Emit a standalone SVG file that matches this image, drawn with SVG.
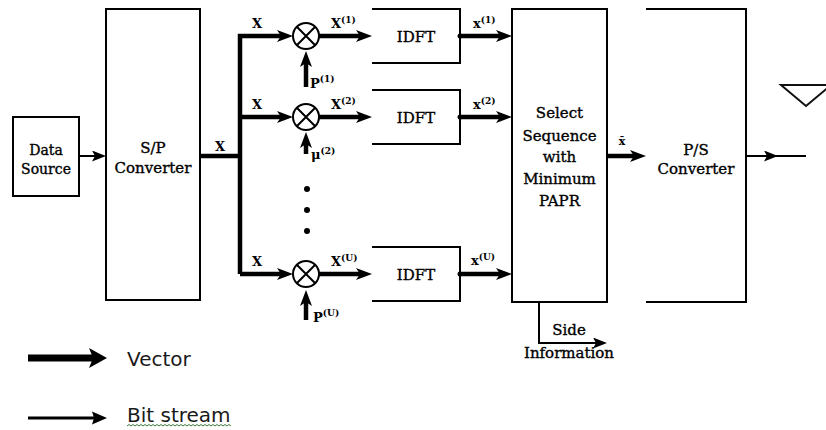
<svg xmlns="http://www.w3.org/2000/svg" width="826" height="430" viewBox="0 0 826 430">
<style>
.box{fill:none;stroke:#000;stroke-width:2}
.t{font-family:"DejaVu Serif","Liberation Serif",serif;font-size:15px;fill:#000;stroke:#000;stroke-width:0.35;text-anchor:middle}
.lb{font-family:"DejaVu Serif","Liberation Serif",serif;font-size:13px;font-weight:bold;fill:#000}
.sup{font-size:9px}
.thick{fill:none;stroke:#000;stroke-width:4.5}
.thin{fill:none;stroke:#000;stroke-width:2}
.leg{font-family:"DejaVu Sans","Liberation Sans",sans-serif;font-size:20px;fill:#1a1a1a}
</style>
<defs>
<marker id="ah" markerUnits="userSpaceOnUse" markerWidth="16" markerHeight="12" refX="8" refY="6" orient="auto">
<path d="M0,0 L16,6 L0,12 L4,6 Z" fill="#000"/>
</marker>
<marker id="ahs" markerUnits="userSpaceOnUse" markerWidth="14" markerHeight="11" refX="7" refY="5.5" orient="auto">
<path d="M0,0 L14,5.5 L0,11 L3,5.5 Z" fill="#000"/>
</marker>
</defs>
<rect width="826" height="430" fill="#fff"/>

<g id="data-source">
<rect class="box" x="13" y="117" width="66" height="79"/>
<text class="t" x="46" y="155" style="font-size:14px">Data</text>
<text class="t" x="46" y="174" style="font-size:14px">Source</text>
</g>

<g id="sp-converter">
<rect class="box" x="106" y="9" width="94" height="291"/>
<text class="t" x="153" y="153">S/P</text>
<text class="t" x="153" y="173">Converter</text>
</g>

<g id="mult1">
<circle class="box" cx="306" cy="36" r="13"/>
<path class="box" d="M296.8,26.8 L315.2,45.2 M315.2,26.8 L296.8,45.2"/>
</g>
<g id="mult2">
<circle class="box" cx="306" cy="117" r="13"/>
<path class="box" d="M296.8,107.8 L315.2,126.2 M315.2,107.8 L296.8,126.2"/>
</g>
<g id="multU">
<circle class="box" cx="306" cy="274" r="13"/>
<path class="box" d="M296.8,264.8 L315.2,283.2 M315.2,264.8 L296.8,283.2"/>
</g>

<g id="idft1">
<path class="box" d="M372,9 H460 V63 H372"/>
<text class="t" x="416" y="42">IDFT</text>
</g>
<g id="idft2">
<path class="box" d="M372,90 H460 V144 H372"/>
<text class="t" x="416" y="123">IDFT</text>
</g>
<g id="idftU">
<path class="box" d="M372,247 H460 V301 H372"/>
<text class="t" x="416" y="280">IDFT</text>
</g>

<g id="select">
<rect class="box" x="512" y="9" width="95" height="293"/>
<text class="t" x="559.5" y="118">Select</text>
<text class="t" x="559.5" y="141">Sequence</text>
<text class="t" x="559.5" y="162">with</text>
<text class="t" x="559.5" y="184">Minimum</text>
<text class="t" x="559.5" y="206">PAPR</text>
</g>

<g id="ps-converter">
<path class="box" d="M646,9 H746 V302 H646"/>
<text class="t" x="696" y="155">P/S</text>
<text class="t" x="696" y="174">Converter</text>
</g>

<g id="antenna">
<polygon points="781,85 831,85 806,106" fill="none" stroke="#111" stroke-width="2"/>
</g>

<g id="dots">
<circle cx="307" cy="189" r="3" fill="#000"/>
<circle cx="307" cy="210" r="3" fill="#000"/>
<circle cx="307" cy="231" r="3" fill="#000"/>
</g>

<g id="connectors">
<path class="thin" d="M79,156 H99" marker-end="url(#ahs)"/>
<path class="thick" d="M200,156 H240"/>
<path class="thick" d="M240,274 V36 H285" marker-end="url(#ah)"/>
<path class="thick" d="M240,117 H285" marker-end="url(#ah)"/>
<path class="thick" d="M240,274 H285" marker-end="url(#ah)"/>
<path class="thick" d="M319,36 H364" marker-end="url(#ah)"/>
<path class="thick" d="M319,117 H364" marker-end="url(#ah)"/>
<path class="thick" d="M319,274 H364" marker-end="url(#ah)"/>
<path class="thick" d="M306,87 V59" marker-end="url(#ah)"/>
<path class="thick" d="M306,154 V140" marker-end="url(#ah)"/>
<path class="thick" d="M306,320 V298" marker-end="url(#ah)"/>
<circle cx="460" cy="36" r="2.5" fill="#000"/>
<circle cx="460" cy="117" r="2.5" fill="#000"/>
<circle cx="460" cy="274" r="2.5" fill="#000"/>
<path class="thick" d="M460,36 H504" marker-end="url(#ah)"/>
<path class="thick" d="M460,117 H504" marker-end="url(#ah)"/>
<path class="thick" d="M460,274 H504" marker-end="url(#ah)"/>
<path class="thick" d="M607,156 H638" marker-end="url(#ah)"/>
<path class="thin" d="M746,156 H771" marker-end="url(#ahs)"/>
<path class="thin" d="M771,156 H806"/>
<path class="thin" d="M539,302 V343 H600" marker-end="url(#ahs)"/>
</g>

<g id="labels">
<text class="lb" x="220" y="151" text-anchor="middle">X</text>
<text class="lb" x="257" y="28" text-anchor="middle">X</text>
<text class="lb" x="257" y="109" text-anchor="middle">X</text>
<text class="lb" x="257" y="266" text-anchor="middle">X</text>
<text class="lb" x="331" y="28">X<tspan class="sup" dy="-5">(1)</tspan></text>
<text class="lb" x="331" y="109">X<tspan class="sup" dy="-5">(2)</tspan></text>
<text class="lb" x="331" y="266">X<tspan class="sup" dy="-5">(U)</tspan></text>
<text class="lb" x="473" y="28">x<tspan class="sup" dy="-5">(1)</tspan></text>
<text class="lb" x="473" y="109">x<tspan class="sup" dy="-5">(2)</tspan></text>
<text class="lb" x="471" y="265">x<tspan class="sup" dy="-5">(U)</tspan></text>
<text class="lb" x="310" y="88">P<tspan class="sup" dy="-6">(1)</tspan></text>
<text class="lb" x="311" y="159">μ<tspan class="sup" dy="-5">(2)</tspan></text>
<text class="lb" x="313" y="322">P<tspan class="sup" dy="-6">(U)</tspan></text>
<text class="lb" x="622" y="145" text-anchor="middle" style="font-size:11px">x̄</text>
<text class="t" x="569" y="335">Side</text>
<text class="t" x="569" y="358">Information</text>
</g>

<g id="legend">
<path d="M28,358 H93" stroke="#000" stroke-width="7" fill="none"/>
<polygon points="89,348 107,358 89,368 93,358" fill="#000"/>
<text class="leg" x="127" y="366">Vector</text>
<path d="M28,418 H95" stroke="#000" stroke-width="3" fill="none"/>
<polygon points="92,411.5 107,418 92,424.5 94,418" fill="#000"/>
<text class="leg" x="127" y="422">Bit stream</text>
<path d="M127,426 l2,-1.5 l2,1.5 l2,-1.5 l2,1.5 l2,-1.5 l2,1.5 l2,-1.5 l2,1.5 l2,-1.5 l2,1.5 l2,-1.5 l2,1.5 l2,-1.5 l2,1.5 l2,-1.5 l2,1.5 l2,-1.5 l2,1.5 l2,-1.5 l2,1.5 l2,-1.5 l2,1.5 l2,-1.5 l2,1.5 l2,-1.5 l2,1.5 l2,-1.5 l2,1.5 l2,-1.5 l2,1.5 l2,-1.5 l2,1.5 l2,-1.5 l2,1.5 l2,-1.5 l2,1.5 l2,-1.5 l2,1.5 l2,-1.5 l2,1.5 l2,-1.5 l2,1.5 l2,-1.5 l2,1.5 l2,-1.5 l2,1.5 l2,-1.5 l2,1.5 l2,-1.5 l2,1.5 l2,-1.5 l2,1.5" fill="none" stroke="#3c7a3c" stroke-width="1"/>
</g>
</svg>
